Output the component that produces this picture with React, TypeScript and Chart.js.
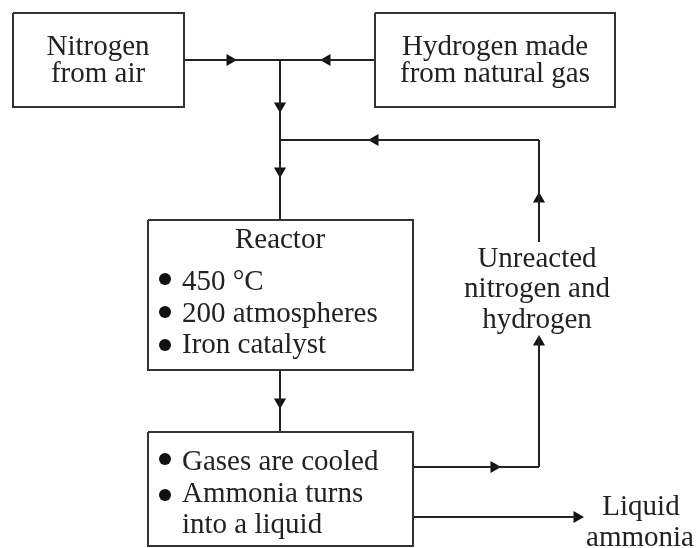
import React, { useEffect, useRef } from "react";
import { Chart, registerables } from "chart.js";

Chart.register(...registerables);

const W = 697;
const H = 548;
const INK = "#222222";
const FONT = '"Liberation Serif", "Times New Roman", serif';
const FONT_SIZE = 29;

// Boxes: [x1, y1, x2, y2] in diagram units
const boxes: number[][] = [
  [13, 13, 184, 107],
  [375, 13, 615, 107],
  [148, 220, 413, 370],
  [148, 432, 413, 546],
];

// Connecting lines: [x1, y1, x2, y2]
const segments: number[][] = [
  [184, 60, 375, 60],
  [280, 60, 280, 220],
  [280, 140, 539, 140],
  [539, 140, 539, 242],
  [539, 337, 539, 467],
  [413, 467, 539, 467],
  [280, 370, 280, 432],
  [413, 517, 576, 517],
];

// Arrowheads: [x, y, rotation deg] (0 = up, 90 = right, 180 = down, 270 = left)
const arrows: number[][] = [
  [230, 60, 90],
  [327, 60, 270],
  [280, 106, 180],
  [375, 140, 270],
  [280, 171, 180],
  [539, 199, 0],
  [539, 342, 0],
  [280, 402, 180],
  [494, 467, 90],
  [577, 517, 90],
];

// Bullets: [x, y]
const bullets: number[][] = [
  [165, 279],
  [165, 312],
  [165, 345],
  [165, 459],
  [165, 495],
];

// Labels: [text, x, baseline y, align]
const labels: [string, number, number, string][] = [
  ["Nitrogen", 98, 55, "center"],
  ["from air", 98, 82, "center"],
  ["Hydrogen made", 495, 55, "center"],
  ["from natural gas", 495, 82, "center"],
  ["Reactor", 280, 248, "center"],
  ["450 °C", 182, 290, "left"],
  ["200 atmospheres", 182, 322, "left"],
  ["Iron catalyst", 182, 353, "left"],
  ["Unreacted", 537, 267, "center"],
  ["nitrogen and", 537, 297, "center"],
  ["hydrogen", 537, 328, "center"],
  ["Gases are cooled", 182, 470, "left"],
  ["Ammonia turns", 182, 502, "left"],
  ["into a liquid", 182, 533, "left"],
  ["Liquid", 641, 515, "center"],
  ["ammonia", 640, 546, "center"],
];

const textPlugin = {
  id: "diagramText",
  afterDatasetsDraw(chart: any) {
    const ctx = chart.ctx;
    const xs = chart.scales.x;
    const ys = chart.scales.y;
    ctx.save();
    ctx.fillStyle = INK;
    ctx.font = `${FONT_SIZE}px ${FONT}`;
    ctx.textBaseline = "alphabetic";
    for (const [t, x, y, align] of labels) {
      ctx.textAlign = align;
      ctx.fillText(t, xs.getPixelForValue(x), ys.getPixelForValue(y));
    }
    ctx.restore();
  },
};

export default function App() {
  const ref = useRef<HTMLCanvasElement | null>(null);

  useEffect(() => {
    if (!ref.current) return;
    const lineDs = (pts: { x: number; y: number }[]) => ({
      type: "scatter" as const,
      data: pts,
      showLine: true,
      borderColor: INK,
      borderWidth: 2,
      pointRadius: 0,
      fill: false,
      tension: 0,
      clip: false,
    });
    const datasets: any[] = [];
    for (const [x1, y1, x2, y2] of boxes) {
      datasets.push({
        ...lineDs([
          { x: x1, y: y1 },
          { x: x2, y: y1 },
          { x: x2, y: y2 },
          { x: x1, y: y2 },
          { x: x1, y: y1 },
        ]),
        borderJoinStyle: "miter",
        borderColor: "#333333",
      });
    }
    for (const [x1, y1, x2, y2] of segments) {
      datasets.push(lineDs([{ x: x1, y: y1 }, { x: x2, y: y2 }]));
    }
    datasets.push({
      type: "scatter",
      data: arrows.map(([x, y]) => ({ x, y })),
      pointStyle: "triangle",
      pointRotation: arrows.map((a) => a[2]),
      pointRadius: 7,
      backgroundColor: "#111111",
      borderColor: "#111111",
      borderWidth: 0,
      clip: false,
    });
    datasets.push({
      type: "scatter",
      data: bullets.map(([x, y]) => ({ x, y })),
      pointStyle: "circle",
      pointRadius: 6,
      backgroundColor: "#111111",
      borderWidth: 0,
      clip: false,
    });

    const chart = new Chart(ref.current, {
      type: "scatter",
      data: { datasets },
      options: {
        animation: false,
        responsive: false,
        devicePixelRatio: 1,
        layout: { padding: 0, autoPadding: false },
        events: [],
        plugins: { legend: { display: false }, tooltip: { enabled: false } },
        scales: {
          x: { type: "linear", min: 0, max: W, display: false },
          y: { type: "linear", min: 0, max: H, reverse: true, display: false },
        },
      },
      plugins: [textPlugin],
    });
    return () => chart.destroy();
  }, []);

  return (
    <div style={{ position: "absolute", left: 0, top: 0, width: W, height: H, background: "#fff" }}>
      <canvas ref={ref} width={W} height={H} style={{ width: W, height: H, display: "block" }} />
    </div>
  );
}
